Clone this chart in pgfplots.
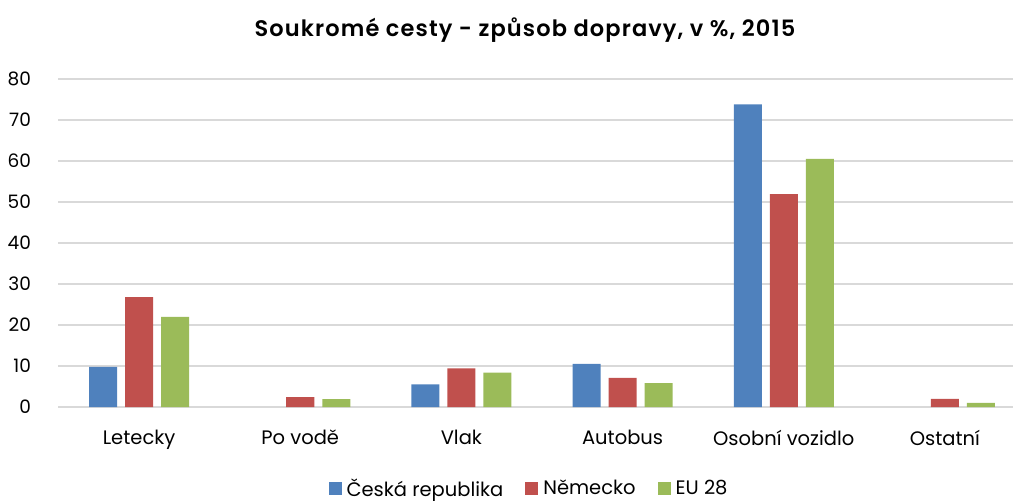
\documentclass[border=0pt]{standalone}
\usepackage{fontspec}
\setmainfont{Poppins}
\newfontfamily\titlefont{Poppins SemiBold}
\usepackage{pgfplots}
\pgfplotsset{compat=1.18}
\definecolor{cz}{HTML}{4F81BD}
\definecolor{de}{HTML}{C0504D}
\definecolor{eu}{HTML}{9BBB59}
\definecolor{gridc}{HTML}{D9D9D9}
\begin{document}
\begin{tikzpicture}
\useasboundingbox (-58.5pt,-94pt) rectangle (954.5pt,407pt);
\begin{axis}[
  scale only axis,
  width=967pt, height=328pt,
  xmin=-0.5, xmax=5.5,
  ymin=0, ymax=80,
  ytick={0,10,...,80},
  xtick={0,...,5},
  xticklabels={Letecky,Po vodě,Vlak,Autobus,Osobní vozidlo,Ostatní},
  ybar=8pt, bar width=28pt,
  axis line style={draw=none},
  axis x line*=bottom,
  x axis line style={draw=gridc, line width=1.5pt},
  tick style={draw=none},
  ymajorgrids, grid style={draw=gridc, line width=1.5pt},
  /pgf/number format/assume math mode=true,
  yticklabel style={font=\fontsize{18.5}{22}\selectfont, xshift=-24pt},
  xticklabel style={font=\fontsize{19.5}{23}\selectfont, yshift=-15pt},
  title={Soukromé cesty - způsob dopravy, v \%, 2015},
  title style={font=\titlefont\fontsize{22.5}{26}\selectfont\addfontfeature{LetterSpace=5},
    at={(axis description cs:0.4824,1.0)}, anchor=base, yshift=37pt},
  legend columns=3,
  legend style={draw=none, font=\fontsize{19.5}{23}\selectfont,
    at={(axis description cs:0.4866,-0.247)}, anchor=center,
    /tikz/every even column/.append style={column sep=20pt}},
  legend image code/.code={\fill[#1] (0pt,-6.5pt) rectangle (13pt,6.5pt); \path (16pt,0pt);},
]
\addplot[fill=cz, draw=none] coordinates {(0,9.8) (2,5.5) (3,10.5) (4,73.8)};
\addplot[fill=de, draw=none] coordinates {(0,26.8) (1,2.4) (2,9.4) (3,7.1) (4,51.9) (5,2.0)};
\addplot[fill=eu, draw=none] coordinates {(0,22.0) (1,1.9) (2,8.4) (3,5.8) (4,60.5) (5,1.0)};
\legend{Česká republika, Německo, EU 28}
\end{axis}
\end{tikzpicture}
\end{document}
